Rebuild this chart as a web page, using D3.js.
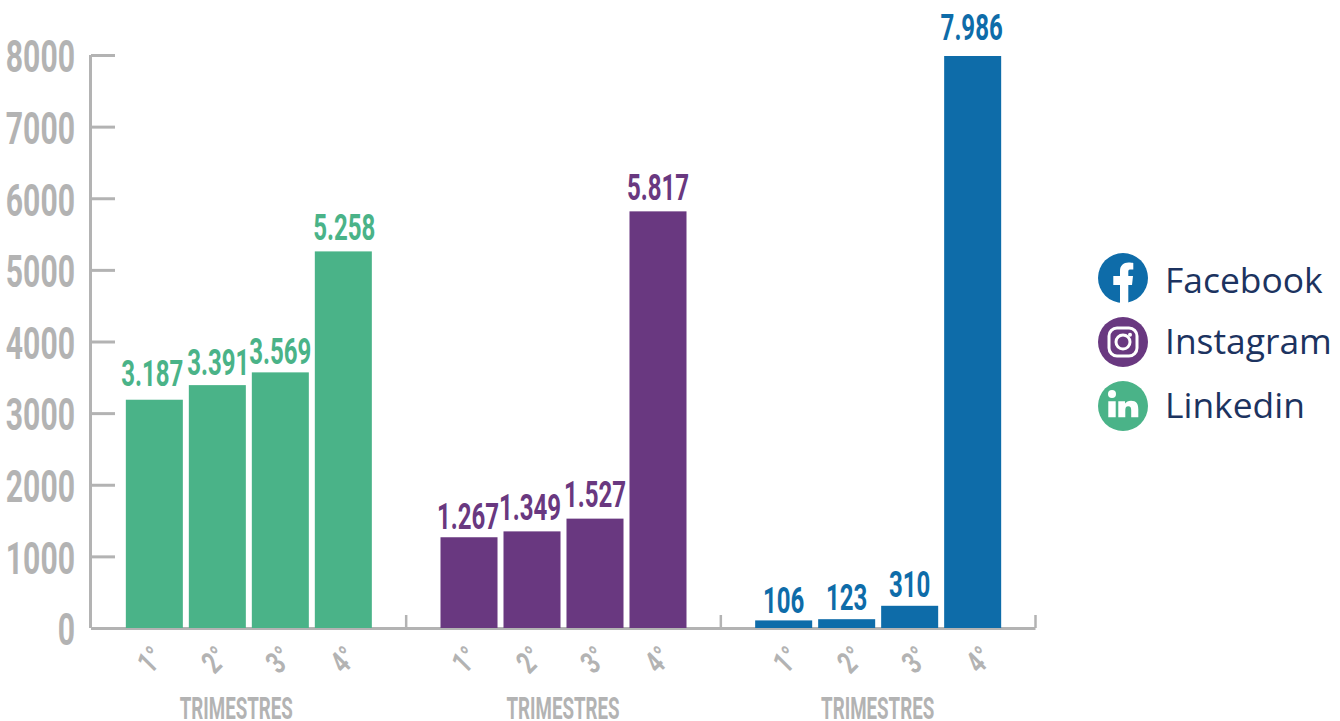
<!DOCTYPE html>
<html>
<head>
<meta charset="utf-8">
<script src="https://cdn.jsdelivr.net/npm/d3@7"></script>
<style>
  html, body { margin: 0; background: #fff; overflow: hidden; }
  .cond { font-family: "Roboto", sans-serif; font-weight: 700; }
</style>
</head>
<body>
<div id="chart"></div>
<script>
const groups = ["Linkedin", "Instagram", "Facebook"];
const quarters = ["1°", "2°", "3°", "4°"];
const linkedinValues = [3187, 3391, 3569, 5258];
const instagramValues = [1267, 1349, 1527, 5817];
const facebookValues = [106, 123, 310, 7986];
const valueLabels = [
    ["3.187", "3.391", "3.569", "5.258"],
    ["1.267", "1.349", "1.527", "5.817"],
    ["106", "123", "310", "7.986"]
];
const yTicks = [0, 1000, 2000, 3000, 4000, 5000, 6000, 7000, 8000];
const legendNames = ["Facebook", "Instagram", "Linkedin"];

const grey = "#b3b3b3";
const colors = { Linkedin: "#4ab388", Instagram: "#693880", Facebook: "#0e6ca9" };
const seriesValues = [linkedinValues, instagramValues, facebookValues];

// The labels were placed by hand in the original, so their gaps differ
const labelGaps = [
    [14, 10, 8, 11],
    [8, 11, 12, 11],
    [7, 9, 9, 16]
];
const labelShift = [
    [-2, 1, 0, 1],
    [-1, -2, 0, 0],
    [0, 0, 0, -1]
];

const svg = d3.select("#chart").append("svg")
    .attr("width", 1340)
    .attr("height", 721);

// Scales
const y = d3.scaleLinear().domain([0, 8000]).range([628, 55]);
const x0 = d3.scaleBand().domain(groups).range([91, 1035]);
const x1 = d3.scaleBand().domain(quarters).range([0.5, x0.bandwidth() + 0.5])
    .paddingInner(0.095).paddingOuter(0.545);
const labelX = d3.scalePoint().domain(quarters).range([59, 252]);

// Y axis
const yAxis = svg.append("g")
    .attr("transform", "translate(91,0)")
    .call(d3.axisLeft(y).tickValues(yTicks).tickSize(-24).tickFormat(d3.format("d")));
yAxis.selectAll("path, line").attr("stroke", grey).attr("stroke-width", 3);
yAxis.select(".domain").attr("d", "M-0.5,55V628");
yAxis.selectAll("text")
    .attr("class", "cond")
    .attr("fill", grey)
    .attr("font-size", 45)
    .attr("dy", null)
    .attr("x", null)
    .attr("dominant-baseline", "central")
    .attr("text-anchor", "end")
    .attr("transform", "translate(-16,1) scale(0.67,1)");

// Bars go over the baseline
const baseline = svg.append("g")
    .attr("transform", "translate(0,628)")
    .call(d3.axisBottom(d3.scaleLinear().domain([0, 3]).range([91, 1035]))
        .tickValues([1, 2, 3]).tickSize(-13).tickSizeOuter(0).tickFormat(""));
baseline.selectAll("path, line").attr("stroke", grey);
baseline.selectAll("line").attr("stroke-width", 2.5);
baseline.select(".domain").attr("stroke-width", 3);

const group = svg.selectAll(".group")
    .data(groups)
    .enter()
    .append("g")
    .attr("class", "group")
    .attr("transform", d => `translate(${x0(d)},0)`);

group.each(function(name, i) {
    const g = d3.select(this);
    const rows = quarters.map((q, j) => ({
        q,
        value: seriesValues[i][j],
        label: valueLabels[i][j],
        gap: labelGaps[i][j],
        shift: labelShift[i][j]
    }));

    g.selectAll("rect")
        .data(rows)
        .enter()
        .append("rect")
        .attr("x", d => x1(d.q))
        .attr("y", d => y(d.value))
        .attr("width", x1.bandwidth())
        .attr("height", d => y(0) - y(d.value))
        .attr("fill", colors[name]);

    g.selectAll(".value")
        .data(rows)
        .enter()
        .append("text")
        .attr("class", "value cond")
        .attr("text-anchor", "middle")
        .attr("font-size", 37)
        .attr("fill", colors[name])
        .attr("transform", d => `translate(${x1(d.q) + x1.bandwidth() / 2 + d.shift},${y(d.value) - d.gap}) scale(0.65,1)`)
        .text(d => d.label);

    // Quarter labels, the last group sits a bit further right
    const xAxis = g.append("g")
        .attr("transform", `translate(${i === 2 ? 6.5 : 0},628)`)
        .call(d3.axisBottom(labelX).tickSize(0).tickPadding(0));
    xAxis.select(".domain").remove();
    xAxis.selectAll("text")
        .attr("class", "cond")
        .attr("fill", grey)
        .attr("font-size", 31)
        .attr("y", null)
        .attr("dy", null)
        .attr("text-anchor", "middle")
        .attr("dominant-baseline", "central")
        .attr("transform", "translate(0,32) rotate(-45) scale(0.72,1)");

    // Axis title, the first one sits left of its group centre
    g.append("text")
        .attr("class", "cond")
        .attr("text-anchor", "middle")
        .attr("font-size", 32)
        .attr("fill", grey)
        .attr("transform", `translate(${x0.bandwidth() / 2 + (i === 0 ? -12 : 0)},719) scale(0.585,1)`)
        .text("TRIMESTRES");
});

// Legend
const legendY = d3.scalePoint().domain(legendNames).range([278, 406]);
const legend = svg.selectAll(".legend")
    .data(legendNames)
    .enter()
    .append("g")
    .attr("class", "legend")
    .attr("transform", d => `translate(1123,${legendY(d)})`);

legend.append("circle")
    .attr("r", 25)
    .attr("fill", d => colors[d]);

legend.append("text")
    .attr("x", 42)
    .attr("y", d => d === "Facebook" ? 15 : 12)
    .attr("font-family", "'Open Sans', sans-serif")
    .attr("font-size", 35.4)
    .attr("fill", "#1c3360")
    .text(d => d);

// Facebook glyph
legend.filter(d => d === "Facebook").append("path")
    .attr("fill", "#fff")
    .attr("d", "M-3,25V7H-9.7V-2H-3V-7C-3,-12.5 0.5,-15.5 5.5,-15.5C7.5,-15.5 9.5,-15.3 10.3,-15V-8.5H7C5.5,-8.5 5.3,-7.5 5.3,-6V-2H10L9,7H5.3V25Z");

// Instagram glyph
const ig = legend.filter(d => d === "Instagram");
ig.append("rect")
    .attr("x", -14).attr("y", -14).attr("width", 28).attr("height", 28).attr("rx", 8)
    .attr("fill", "none").attr("stroke", "#fff").attr("stroke-width", 3);
ig.append("circle")
    .attr("r", 7).attr("fill", "none").attr("stroke", "#fff").attr("stroke-width", 3);
ig.append("circle")
    .attr("cx", 7).attr("cy", -7.3).attr("r", 2).attr("fill", "#fff");

// Linkedin glyph
const li = legend.filter(d => d === "Linkedin");
li.append("circle")
    .attr("cx", -11).attr("cy", -12).attr("r", 4).attr("fill", "#fff");
li.append("path")
    .attr("fill", "#fff")
    .attr("d", "M-14.7,-4.7H-7.3V11.3H-14.7ZM-4.7,-4.7H2V-2.5C3.2,-4 5.2,-5.2 8,-5.2C13.5,-5.2 15.3,-1.8 15.3,3.5V11.3H8.2V4.5C8.2,1.8 7.5,0.3 5.2,0.3C3,0.3 2.3,1.8 2.3,4.5V11.3H-4.7Z");
</script>
</body>
</html>
